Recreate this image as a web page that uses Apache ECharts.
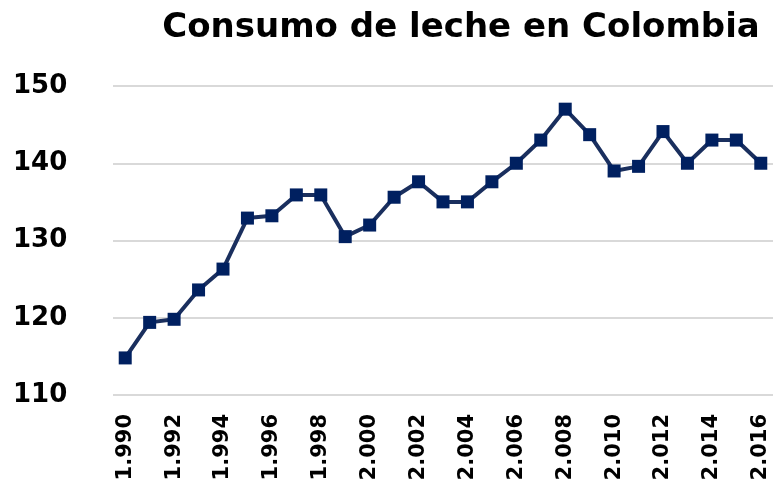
<!DOCTYPE html>
<html><head><meta charset="utf-8">
<script src="https://cdn.jsdelivr.net/npm/echarts@6/dist/echarts.min.js"></script>
<style>html,body{margin:0;padding:0;background:#fff}#c{width:776px;height:485px}</style>
</head><body><div id="c"></div>
<script>
const years = ["1.990","1.991","1.992","1.993","1.994","1.995","1.996","1.997","1.998","1.999","2.000","2.001","2.002","2.003","2.004","2.005","2.006","2.007","2.008","2.009","2.010","2.011","2.012","2.013","2.014","2.015","2.016"];
const consumo = [114.8,119.4,119.8,123.6,126.3,132.9,133.2,135.9,135.9,130.5,132.0,135.6,137.6,135.0,135.0,137.6,140.0,143.0,147.0,143.7,139.0,139.6,144.1,140.0,143.0,143.0,140.0];
const yTicks = {min:110, max:150, interval:10};
const chart = echarts.init(document.getElementById('c'));
chart.setOption({
  animation:false,
  title:{text:'Consumo de leche en Colombia', left:456, top:6, textAlign:'center',
    textStyle:{fontFamily:'DejaVu Sans', fontWeight:'bold', fontSize:34, color:'#000'}},
  grid:{left:113, right:3, top:86, bottom:90},
  xAxis:{type:'category', data:years, boundaryGap:true,
    axisLine:{show:false}, axisTick:{show:false},
    axisLabel:{rotate:90, interval:1, fontFamily:'DejaVu Sans', fontWeight:'bold', fontSize:21, color:'#000', margin:19}},
  yAxis:{type:'value', min:yTicks.min, max:yTicks.max, interval:yTicks.interval,
    axisLine:{show:false}, axisTick:{show:false},
    splitLine:{lineStyle:{color:'#d9d9d9', width:2}},
    axisLabel:{fontFamily:'DejaVu Sans', fontWeight:'bold', fontSize:26, color:'#000', align:'left', margin:100}},
  series:[{type:'line', data:consumo, symbol:'rect', symbolSize:13,
    lineStyle:{color:'#1a2f5e', width:4}, itemStyle:{color:'#002060'}}]
});
</script></body></html>
